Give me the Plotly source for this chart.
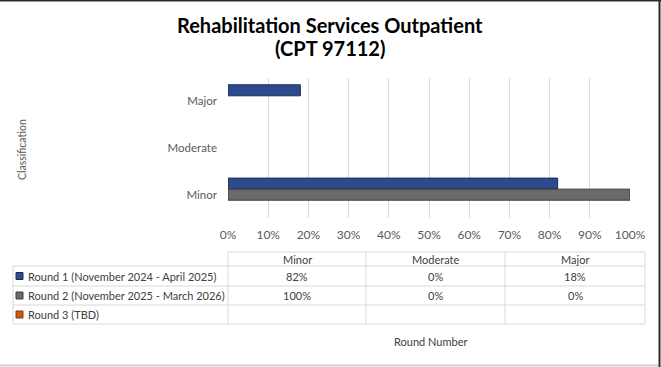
import plotly.graph_objects as go

# ---- data ----
categories = ["Minor", "Moderate", "Major"]
series_names = [
    "Round 1 (November 2024 - April 2025)",
    "Round 2 (November 2025 - March 2026)",
    "Round 3 (TBD)",
]
round1 = [82, 0, 18]
round2 = [100, 0, 0]
round3 = [None, None, None]
series_values = [round1, round2, round3]
series_colors = ["#2d4b8c", "#6a6a6a", "#c55a11"]
series_edges = ["#1a2d58", "#3c3c3c", "#843c0c"]
x_ticks = list(range(0, 101, 10))
title_lines = ["Rehabilitation Services Outpatient", "(CPT 97112)"]

W, H = 661, 367
L, R, T, B = 228, 630, 78, 218  # plot area in pixels


def px(x):
    return (x - L) / (R - L)


def py(y):
    return (B - y) / (B - T)


FONT = "Lato"
GRAY = "#595959"
TXT = "#404040"
LINE = "#d9d9d9"

fig = go.Figure()
for name, vals, col, edge in zip(series_names, series_values, series_colors, series_edges):
    edge_cols = [edge if (v not in (None, 0)) else "rgba(0,0,0,0)" for v in vals]
    fig.add_trace(go.Bar(
        y=categories, x=vals, name=name, orientation="h",
        marker=dict(color=col, line=dict(color=edge_cols, width=1)),
        showlegend=False, hoverinfo="x+y",
    ))

fig.update_layout(
    width=W, height=H,
    margin=dict(l=L, r=W - R, t=T, b=H - B),
    paper_bgcolor="white", plot_bgcolor="white",
    barmode="group", bargap=0.29, bargroupgap=0,
    font=dict(family=FONT, size=11, color=GRAY),
    xaxis=dict(
        range=[0, 100], tickvals=x_ticks, ticktext=[f"{v}%" for v in x_ticks],
        showgrid=True, gridcolor=LINE, gridwidth=1, zeroline=False,
        showline=False, ticks="", ticklabelstandoff=8,
        tickfont=dict(size=12, color=GRAY), fixedrange=True,
    ),
    yaxis=dict(
        categoryorder="array", categoryarray=categories[::-1],
        autorange="reversed", showgrid=False, zeroline=False, showline=False,
        ticks="", ticklabelstandoff=10, tickfont=dict(size=11.5, color=GRAY),
        fixedrange=True,
    ),
)

ann = []
shp = []
# title (two lines)
for line_text, ty in zip(title_lines, [25, 48]):
    ann.append(dict(
        x=px(330), y=py(ty), xref="paper", yref="paper", xanchor="center", yanchor="middle",
        text="<b>" + line_text + "</b>", showarrow=False,
        font=dict(family=FONT, size=20, color="#000000"),
    ))
# y axis title
ann.append(dict(
    x=px(22), y=py(150), xref="paper", yref="paper", xanchor="center", yanchor="middle",
    text="Classification", textangle=-90, showarrow=False,
    font=dict(family=FONT, size=10.5, color=GRAY),
))
# x axis (table) title
ann.append(dict(
    x=px(430), y=py(341), xref="paper", yref="paper", xanchor="center", yanchor="middle",
    text="Round Number", showarrow=False, font=dict(family=FONT, size=11, color=TXT),
))

# ---- data table ----
col_x = [13, 228, 366, 505, 645]
row_y = [252, 266, 286, 305, 324]


def hline(x0, x1, y, color=LINE, w=1):
    shp.append(dict(type="line", xref="paper", yref="paper",
                    x0=px(x0), x1=px(x1), y0=py(y), y1=py(y),
                    line=dict(color=color, width=w)))


def vline(x, y0, y1, color=LINE, w=1):
    shp.append(dict(type="line", xref="paper", yref="paper",
                    x0=px(x), x1=px(x), y0=py(y0), y1=py(y1),
                    line=dict(color=color, width=w)))


hline(col_x[1], col_x[-1], row_y[0])
for y in row_y[1:]:
    hline(col_x[0], col_x[-1], y)
vline(col_x[0], row_y[1], row_y[-1])
for x in col_x[1:]:
    vline(x, row_y[0], row_y[-1])

# header
for i, cat in enumerate(categories):
    cx = (col_x[i + 1] + col_x[i + 2]) / 2
    ann.append(dict(x=px(cx), y=py((row_y[0] + row_y[1]) / 2), xref="paper", yref="paper",
                    xanchor="center", yanchor="middle", text=cat, showarrow=False,
                    font=dict(family=FONT, size=11, color=TXT)))
# rows
for r, (name, vals, col, edge) in enumerate(zip(series_names, series_values, series_colors, series_edges)):
    cy = (row_y[r + 1] + row_y[r + 2]) / 2
    shp.append(dict(type="rect", xref="paper", yref="paper",
                    x0=px(16), x1=px(23), y0=py(cy - 3.5), y1=py(cy + 3.5),
                    fillcolor=col, line=dict(color=edge, width=1)))
    ann.append(dict(x=px(26), y=py(cy), xref="paper", yref="paper",
                    xanchor="left", yanchor="middle", text=name, showarrow=False,
                    font=dict(family=FONT, size=11, color=TXT)))
    for i, v in enumerate(vals):
        if v is None:
            continue
        cx = (col_x[i + 1] + col_x[i + 2]) / 2
        ann.append(dict(x=px(cx), y=py(cy), xref="paper", yref="paper",
                        xanchor="center", yanchor="middle", text=f"{v}%", showarrow=False,
                        font=dict(family=FONT, size=11, color=TXT)))

# chart frame
hline(0, W, 0.5, color="#2b2b2b", w=2)
vline(659.5, 0, H, color="#2b2b2b", w=2)
hline(0, 658, 365.5, color="#d0d0d0", w=2)

fig.update_layout(annotations=ann, shapes=shp)
fig.write_html(
    "out.html",
    config={"displayModeBar": False},
    post_script="document.body.style.margin='0';document.body.style.padding='0';document.body.style.overflow='hidden';",
)
